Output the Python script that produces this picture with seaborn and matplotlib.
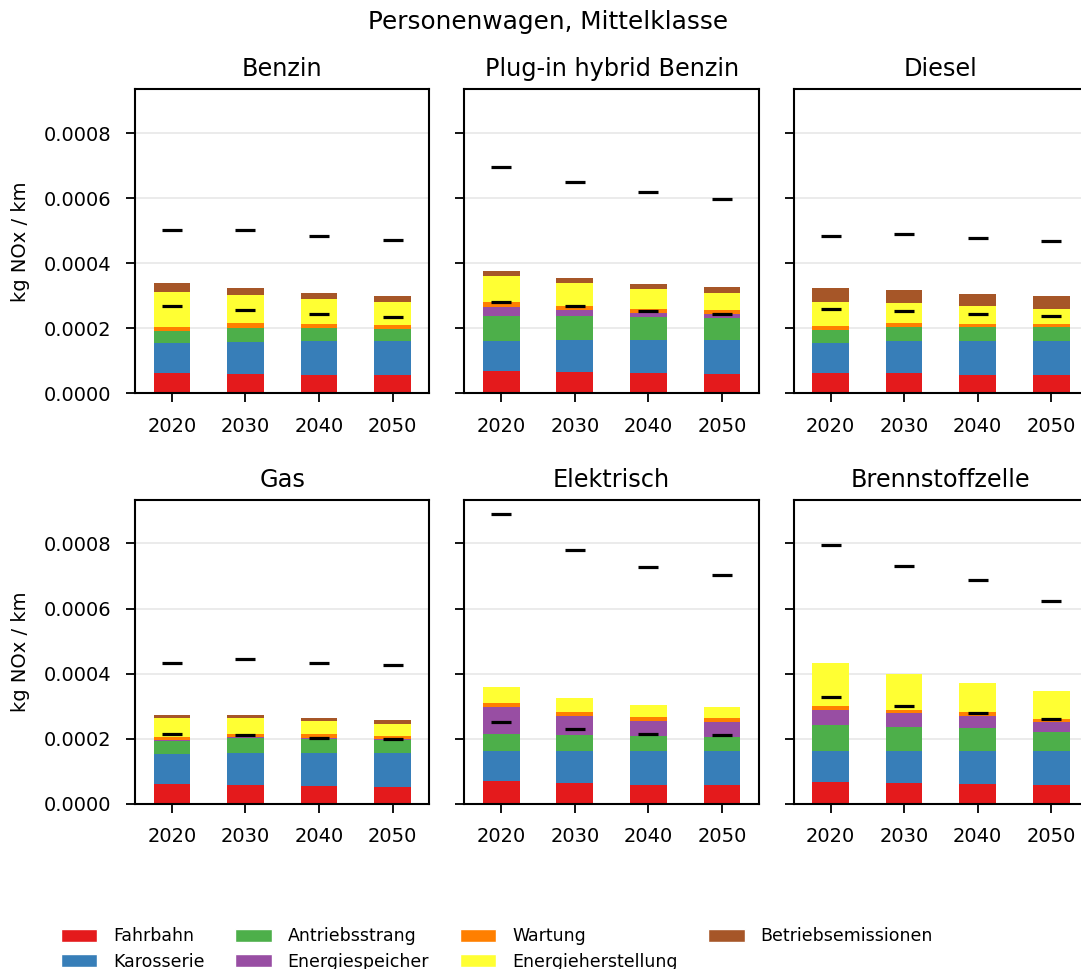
import pandas as pd
import numpy as np
import matplotlib
matplotlib.use("Agg")
import matplotlib.pyplot as plt
import matplotlib.ticker as mticker
from matplotlib.patches import Patch
import seaborn as sns

# ======================================================================
# DATEN (Einheit 1e-5 kg NOx / km)
# ======================================================================
SCALE = 1e-5
YEARS = ["2020", "2030", "2040", "2050"]
DRIVES = ["Benzin", "Plug-in hybrid Benzin", "Diesel",
          "Gas", "Elektrisch", "Brennstoffzelle"]
COMPONENTS = ["Fahrbahn", "Karosserie", "Antriebsstrang", "Energiespeicher",
              "Wartung", "Energieherstellung", "Betriebsemissionen"]

# je Antrieb 4 Werte (2020, 2030, 2040, 2050), Reihenfolge wie DRIVES
fahrbahn = [6.15, 5.9, 5.6, 5.5,
            6.9, 6.6, 6.2, 5.9,
            6.15, 6.15, 5.6, 5.6,
            6.05, 5.75, 5.45, 5.2,
            6.9, 6.25, 5.85, 5.6,
            6.55, 6.25, 5.95, 5.7]
karosserie = [9.42, 10.0, 10.5, 10.6,
              9.2, 9.8, 10.2, 10.5,
              9.42, 9.95, 10.5, 10.5,
              9.35, 9.95, 10.25, 10.5,
              9.4, 10.05, 10.25, 10.5,
              9.65, 9.95, 10.25, 10.5]
antriebsstrang = [3.69, 4.3, 3.9, 3.7,
                  7.8, 7.3, 7.0, 6.7,
                  4.03, 4.3, 4.2, 4.2,
                  3.8, 4.4, 4.2, 4.0,
                  5.1, 4.7, 4.8, 4.5,
                  7.9, 7.5, 7.2, 5.9]
energiespeicher = [0.0, 0.0, 0.0, 0.0,
                   2.8, 2.0, 1.4, 1.3,
                   0.0, 0.0, 0.0, 0.0,
                   0.3, 0.3, 0.3, 0.3,
                   8.4, 6.0, 4.6, 4.5,
                   4.7, 4.1, 3.5, 2.9]
wartung = [1.04, 1.3, 1.2, 1.1,
           1.3, 1.2, 1.1, 1.1,
           1.0, 1.1, 1.1, 0.9,
           1.0, 1.1, 1.1, 0.9,
           1.1, 1.2, 1.1, 1.1,
           1.2, 1.1, 1.2, 1.1]
energieherstellung = [10.96, 8.8, 7.7, 7.1,
                      8.0, 6.9, 6.1, 5.5,
                      7.6, 6.3, 5.4, 4.8,
                      6.0, 4.8, 4.1, 3.6,
                      4.9, 4.3, 3.6, 3.6,
                      13.4, 11.0, 8.9, 8.4]
betriebsemissionen = [2.59, 2.2, 2.1, 2.0,
                      1.5, 1.7, 1.5, 1.7,
                      4.3, 4.0, 3.8, 3.8,
                      0.9, 1.1, 0.8, 1.3,
                      0.0, 0.0, 0.0, 0.0,
                      0.0, 0.0, 0.0, 0.0]

# schwarze Striche (zwei Vergleichswerte je Jahr)
marker_oben = [50.2, 50.2, 48.5, 47.3,
               69.7, 64.9, 61.8, 59.8,
               48.4, 49.1, 47.8, 46.9,
               43.3, 44.5, 43.3, 42.6,
               89.0, 78.0, 72.9, 70.2,
               79.4, 73.2, 68.9, 62.3]
marker_unten = [26.8, 25.5, 24.4, 23.4,
                28.2, 26.8, 25.4, 24.5,
                26.0, 25.3, 24.4, 23.7,
                21.4, 21.1, 20.3, 19.8,
                25.0, 23.0, 21.5, 21.2,
                32.9, 30.0, 27.9, 25.9]


def run_plot():
    sns.set_style("ticks")
    plt.rcParams['font.family'] = ['DejaVu Sans']
    plt.rcParams['text.color'] = 'black'
    plt.rcParams['axes.labelcolor'] = 'black'
    plt.rcParams['xtick.color'] = 'black'
    plt.rcParams['ytick.color'] = 'black'

    df = pd.DataFrame({
        "antrieb": np.repeat(DRIVES, len(YEARS)),
        "jahr": YEARS * len(DRIVES),
        "Fahrbahn": fahrbahn,
        "Karosserie": karosserie,
        "Antriebsstrang": antriebsstrang,
        "Energiespeicher": energiespeicher,
        "Wartung": wartung,
        "Energieherstellung": energieherstellung,
        "Betriebsemissionen": betriebsemissionen,
        "oben": marker_oben,
        "unten": marker_unten,
    })
    num_cols = COMPONENTS + ["oben", "unten"]
    df[num_cols] = df[num_cols] * SCALE

    colors = sns.color_palette("Set1", 7)

    fig, axes = plt.subplots(2, 3, figsize=(10.81, 9.69), dpi=100, sharey=True)
    fig.subplots_adjust(left=0.125, right=1.0065, bottom=0.1706, top=0.9077,
                        wspace=0.119, hspace=0.35)

    ymax = df["oben"].max() * 1.05

    for ax, drive in zip(axes.flat, DRIVES):
        sub = df[df["antrieb"] == drive].set_index("jahr")
        sub[COMPONENTS].plot(kind="bar", stacked=True, ax=ax, width=0.5,
                             color=colors, legend=False, rot=0, linewidth=0)
        xs = np.arange(len(sub))
        ax.plot(xs, sub["oben"], ls="none", marker="_", ms=15, mew=2.3, color="k")
        ax.plot(xs, sub["unten"], ls="none", marker="_", ms=15, mew=2.3, color="k")

        ax.set_title(drive, fontsize=17.3, pad=9.5, color="black")
        ax.set_xlabel("")
        ax.set_ylim(0, ymax)
        ax.set_xlim(-0.5, 3.5)
        ax.yaxis.set_major_locator(mticker.MultipleLocator(0.0002))
        ax.yaxis.set_major_formatter(mticker.FormatStrFormatter("%.4f"))
        ax.yaxis.grid(True, color="#e6e6e6", lw=1.1)
        ax.set_axisbelow(True)
        for sp in ax.spines.values():
            sp.set_linewidth(1.5)
            sp.set_color("black")
        ax.tick_params(axis="both", labelsize=14, length=6.5, width=1.3,
                       color="black", labelcolor="black", pad=10.5)

    for ax in axes[:, 0]:
        ax.set_ylabel("kg NOx / km", fontsize=14, labelpad=10)

    fig.suptitle("Personenwagen, Mittelklasse", fontsize=17.8, x=0.507, y=0.977,
                 va="center", color="black")

    handles = [Patch(facecolor=c, label=l) for c, l in zip(colors, COMPONENTS)]
    fig.legend(handles=handles, loc="upper left", ncol=4, frameon=False,
               bbox_to_anchor=(0.05, 0.05), fontsize=12.5,
               handlelength=2.1, handleheight=0.75, handletextpad=0.9,
               columnspacing=1.78, labelspacing=0.42, borderaxespad=0)

    fig.savefig("out.png", dpi=100)


if __name__ == "__main__":
    run_plot()
